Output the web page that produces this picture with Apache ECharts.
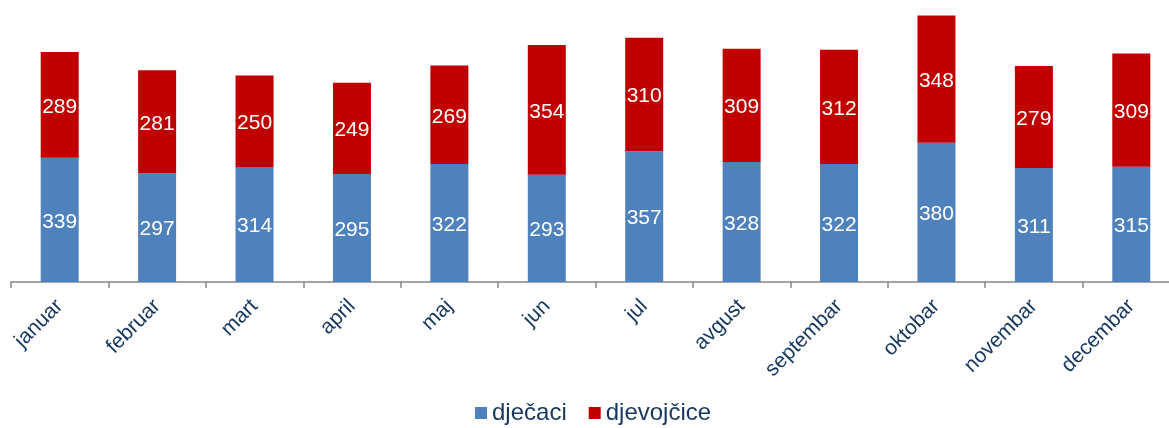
<!DOCTYPE html>
<html>
<head>
<meta charset="utf-8">
<script src="https://cdn.jsdelivr.net/npm/echarts@6/dist/echarts.min.js"></script>
<style>
  html, body { margin: 0; padding: 0; background: #fff; }
  #chart { width: 1169px; height: 428px; }
</style>
</head>
<body>
<div id="chart"></div>
<script>
const months = ['januar', 'februar', 'mart', 'april', 'maj', 'jun', 'jul', 'avgust', 'septembar', 'oktobar', 'novembar', 'decembar'];
const djecaci = [339, 297, 314, 295, 322, 293, 357, 328, 322, 380, 311, 315];
const djevojcice = [289, 281, 250, 249, 269, 354, 310, 309, 312, 348, 279, 309];

const chart = echarts.init(document.getElementById('chart'), null, { renderer: 'canvas' });

const font = 'Liberation Sans, Arial, sans-serif';
const labelStyle = {
  show: true,
  position: 'inside',
  color: '#fff',
  fontSize: 21,
  offset: [0, 2],
  fontFamily: font
};

const option = {
  animation: false,
  grid: { left: 11, top: 0, width: 1169, height: 282, outerBoundsMode: 'none', containLabel: false },
  legend: {
    top: 401,
    left: 475,
    padding: 0,
    itemWidth: 12,
    itemHeight: 12,
    itemGap: 22,
    itemTextGap: 6,
    icon: 'rect',
    textStyle: { color: '#17375E', fontSize: 24, fontFamily: font },
    data: ['dječaci', 'djevojčice']
  },
  xAxis: {
    type: 'category',
    data: months,
    axisLine: { lineStyle: { color: '#868686', width: 1.5 } },
    axisTick: { show: true, length: 6, lineStyle: { color: '#868686', width: 1.5 } },
    axisLabel: {
      rotate: 45,
      color: '#17375E',
      fontSize: 21,
      margin: 21,
      fontFamily: font
    }
  },
  yAxis: {
    type: 'value',
    min: 0,
    max: 770,
    show: false
  },
  series: [
    {
      name: 'dječaci',
      type: 'bar',
      stack: 'total',
      barWidth: 38,
      itemStyle: { color: '#4F81BD' },
      label: labelStyle,
      data: djecaci
    },
    {
      name: 'djevojčice',
      type: 'bar',
      stack: 'total',
      barWidth: 38,
      itemStyle: { color: '#C00000' },
      label: labelStyle,
      data: djevojcice
    }
  ]
};

chart.setOption(option);
</script>
</body>
</html>
